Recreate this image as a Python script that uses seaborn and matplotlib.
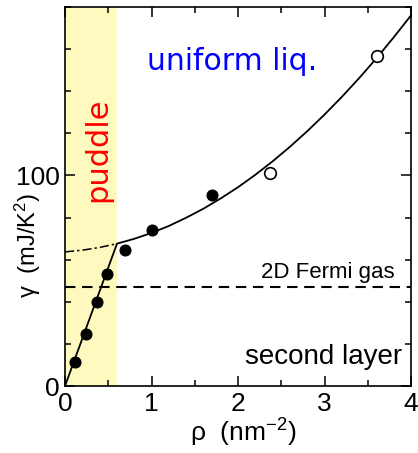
import matplotlib
matplotlib.use("Agg")
import matplotlib.pyplot as plt
import seaborn as sns
import pandas as pd
from matplotlib.ticker import MultipleLocator, FixedLocator

# ---- data ----
filled_rho = [0.12, 0.24, 0.37, 0.49, 0.69, 1.00, 1.70]
filled_gamma = [11.6, 24.9, 39.7, 53.3, 64.4, 74.3, 90.5]
open_rho = [2.37, 3.61]
open_gamma = [101.0, 156.7]

puddle_rho = [0.0, 0.6]
puddle_gamma = [0.0, 67.5]

extrap_rho = [0.0, 0.2, 0.4, 0.6]
extrap_gamma = [63.7, 64.5, 65.8, 67.6]

fit_rho = [0.6, 0.8, 1.0, 1.2, 1.4, 1.6, 1.8, 2.0, 2.2, 2.4, 2.6, 2.8,
           3.0, 3.2, 3.4, 3.6, 3.8, 4.0]
fit_gamma = [67.6, 69.9, 72.7, 76.0, 79.9, 84.2, 89.1, 94.4, 100.3, 106.7,
             113.6, 121.0, 128.9, 137.3, 146.2, 155.6, 165.6, 176.0]

fermi_gas_gamma = 47.0
puddle_edge = 0.6

sns.set_style("ticks")
plt.rcParams["font.family"] = ["Liberation Sans", "DejaVu Sans"]
plt.rcParams["mathtext.fontset"] = "custom"
plt.rcParams["mathtext.rm"] = "Liberation Sans"
plt.rcParams["mathtext.it"] = "Liberation Sans:italic"
for k in ["text.color", "axes.labelcolor", "xtick.color", "ytick.color", "axes.edgecolor"]:
    plt.rcParams[k] = "black"

fig = plt.figure(figsize=(4.18, 4.53), dpi=100)
ax = fig.add_axes([65/418, 1-386/453, 346/418, 379/453])

ax.axvspan(0, puddle_edge, color="#fdf9bf", zorder=0, lw=0)

sns.lineplot(x=puddle_rho, y=puddle_gamma, ax=ax, color="black", lw=1.3, zorder=2)
sns.lineplot(x=extrap_rho, y=extrap_gamma, ax=ax, color="black", lw=1.1,
             linestyle=(0, (6, 2, 1.5, 2)), zorder=2)
sns.lineplot(x=fit_rho, y=fit_gamma, ax=ax, color="black", lw=1.3, zorder=2)
ax.axhline(fermi_gas_gamma, color="black", lw=1.5, linestyle=(0, (5, 3.2)), zorder=2)

sns.scatterplot(x=filled_rho, y=filled_gamma, ax=ax, color="black", s=62,
                edgecolor="black", linewidth=0.8, zorder=3)
sns.scatterplot(x=open_rho, y=open_gamma, ax=ax, color="white", s=70,
                edgecolor="black", linewidth=1.2, zorder=3)

ax.set_xlim(0, 4)
ax.set_ylim(0, 180)
ax.xaxis.set_major_locator(MultipleLocator(1))
ax.xaxis.set_minor_locator(MultipleLocator(0.5))
ax.yaxis.set_major_locator(FixedLocator([0, 100]))
ax.yaxis.set_minor_locator(MultipleLocator(20))
ax.tick_params(which="both", direction="in", top=True, right=True,
               width=1.1, color="black", labelcolor="black")
ax.tick_params(which="major", length=7.5, labelsize=19, pad=4)
ax.tick_params(which="minor", length=4.5)
for s in ax.spines.values():
    s.set_linewidth(1.2)
    s.set_color("black")

ax.set_xlabel(r"ρ  (nm$^{-2}$)", fontsize=19, color="black")
ax.set_ylabel(r"γ  (mJ/K$^{2}$)", fontsize=17, color="black")
ax.yaxis.set_label_coords(-0.065, 0.37)
ax.xaxis.set_label_coords(0.515, -0.08)

ax.text(0.95, 150, "uniform liq.", color="#0000ff", fontsize=21.5,
        family="DejaVu Sans", ha="left", va="baseline")
ax.text(0.38, 112, "puddle", color="#ff0000", fontsize=22, rotation=90,
        family="DejaVu Sans", ha="center", va="center")
ax.text(3.81, 51.5, "2D Fermi gas", fontsize=16, ha="right", va="baseline")
ax.text(3.9, 10.5, "second layer", fontsize=20, ha="right", va="baseline")

fig.savefig("out.png", dpi=100)
